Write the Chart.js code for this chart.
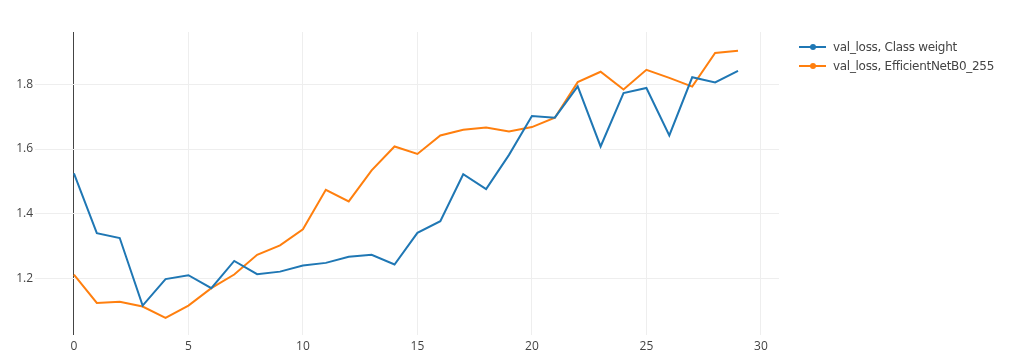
<!DOCTYPE html>
<html>
<head>
<meta charset="utf-8">
<script src="https://cdn.jsdelivr.net/npm/chart.js@4/dist/chart.umd.min.js"></script>
<style>
  html, body { margin: 0; padding: 0; background: #fff; }
  #wrap { position: relative; width: 1024px; height: 357px; }
  #legend { position: absolute; left: 799px; top: 37px; font-family: "DejaVu Sans", Verdana, sans-serif; font-size: 12px; letter-spacing: -0.3px; color: #444; }
  .item { height: 19px; display: flex; align-items: center; white-space: nowrap; }
  .sw { position: relative; width: 27px; height: 2px; margin-right: 7px; }
  .dot { position: absolute; left: 11px; top: -2px; width: 6px; height: 6px; border-radius: 50%; }
</style>
</head>
<body>
<div id="wrap">
  <canvas id="c" width="1024" height="357"></canvas>
  <div id="legend"></div>
</div>
<script>
const epochs = [0,1,2,3,4,5,6,7,8,9,10,11,12,13,14,15,16,17,18,19,20,21,22,23,24,25,26,27,28,29];
const classWeight = [1.525,1.340,1.325,1.116,1.198,1.210,1.170,1.254,1.213,1.221,1.240,1.248,1.267,1.273,1.243,1.341,1.377,1.522,1.476,1.582,1.702,1.697,1.794,1.608,1.773,1.789,1.642,1.822,1.806,1.842];
const efficientNet = [1.212,1.124,1.128,1.113,1.078,1.116,1.170,1.212,1.273,1.302,1.352,1.474,1.438,1.534,1.608,1.585,1.642,1.660,1.667,1.654,1.668,1.697,1.807,1.839,1.784,1.845,1.820,1.793,1.897,1.904];
const seriesNames = ["val_loss, Class weight", "val_loss, EfficientNetB0_255"];
const seriesColors = ["#1f77b4", "#ff7f0e"];
const xTicks = [0,5,10,15,20,25,30];
const yTicks = [1.2,1.4,1.6,1.8];

const font = { family: "'Open Sans', sans-serif", size: 12 };
const series = [classWeight, efficientNet];

new Chart(document.getElementById('c'), {
  type: 'line',
  data: {
    datasets: series.map((vals, i) => ({
      label: seriesNames[i],
      data: vals.map((v, j) => ({ x: epochs[j], y: v })),
      borderColor: seriesColors[i],
      backgroundColor: seriesColors[i],
      borderWidth: 2,
      pointRadius: 0,
      tension: 0,
      fill: false
    }))
  },
  options: {
    responsive: false,
    animation: false,
    events: [],
    layout: { padding: { left: 0, right: 245, top: 32, bottom: 0 } },
    plugins: { legend: { display: false }, tooltip: { enabled: false } },
    scales: {
      x: {
        type: 'linear',
        min: -1.70,
        max: 30.79,
        afterBuildTicks: s => { s.ticks = xTicks.map(v => ({ value: v })); },
        afterFit: s => { s.height = 22; },
        border: { display: false },
        grid: {
          drawTicks: false,
          color: c => (c.tick && c.tick.value === 0) ? '#444' : '#eeeeee',
          lineWidth: 1
        },
        ticks: { font, color: '#444', padding: 4, maxRotation: 0 }
      },
      y: {
        min: 1.025,
        max: 1.962,
        afterBuildTicks: s => { s.ticks = yTicks.map(v => ({ value: v })); },
        afterFit: s => { s.width = 35; },
        border: { display: false },
        grid: { drawTicks: false, color: '#eeeeee', lineWidth: 1 },
        ticks: { font, color: '#444', padding: 2, callback: v => v.toFixed(1) }
      }
    }
  }
});

const lg = document.getElementById('legend');
seriesNames.forEach((n, i) => {
  const it = document.createElement('div');
  it.className = 'item';
  it.innerHTML = '<div class="sw" style="background:' + seriesColors[i] + '"><div class="dot" style="background:' + seriesColors[i] + '"></div></div><span></span>';
  it.querySelector('span').textContent = n;
  lg.appendChild(it);
});
</script>
</body>
</html>
